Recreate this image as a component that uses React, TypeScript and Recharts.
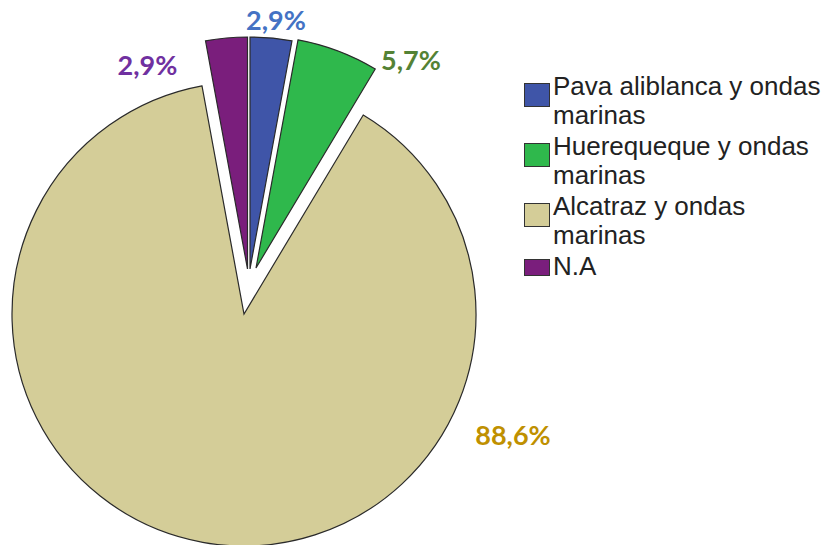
import React from "react";
import { PieChart, Pie, Cell, Legend } from "recharts";

// ---- data ----
const legendLines: string[][] = [
  ["Pava aliblanca y ondas", "marinas"],
  ["Huerequeque y ondas", "marinas"],
  ["Alcatraz y ondas", "marinas"],
  ["N.A"],
];
const categories: string[] = legendLines.map((l) => l.join(" "));
const percentValues: number[] = [2.9, 5.7, 88.6, 2.9];

// ---- styles ----
const sliceColors = ["#3F55A8", "#2FB84C", "#D4CD98", "#7A1E7C"];
const labelColors = ["#4472C4", "#548235", "#BF9000", "#7030A0"];
const baseCx = 249;
const baseCy = 269;
// per-slice explode offsets (pixels) relative to the base centre
const explode = [
  { dx: 1, dy: 0 },
  { dx: 7, dy: -1 },
  { dx: -5, dy: 45 },
  { dx: -1.5, dy: 0 },
];
// label text placement relative to each slice's centre (centre-x, baseline)
const labelOffsets = [
  { dx: 26, dy: -239 },
  { dx: 155, dy: -198 },
  { dx: 269, dy: 131 },
  { dx: -100, dy: -194 },
];
const RADIUS = 232;
const drawOrder = [2, 0, 1, 3];

const data = categories.map((name, i) => ({ name, value: percentValues[i] }));

const fmt = (v: number) => v.toFixed(1).replace(".", ",") + "%";

function LegendContent() {
  return (
    <div
      style={{
        fontFamily: '"Liberation Sans", Arial, sans-serif',
        fontSize: 26,
        lineHeight: "29px",
        color: "#222",
      }}
    >
      {legendLines.map((lines, i) => (
        <div
          key={categories[i]}
          style={{ position: "relative", paddingLeft: 29, marginBottom: 2 }}
        >
          <div
            style={{
              position: "absolute",
              left: 0,
              top: lines.length > 1 ? 11.5 : 7.5,
              width: 26,
              height: lines.length > 1 ? 24 : 17,
              background: sliceColors[i],
              border: "1px solid #333",
              boxSizing: "border-box",
            }}
          />
          {lines.map((t) => (
            <div key={t} style={{ whiteSpace: "nowrap" }}>
              {t}
            </div>
          ))}
        </div>
      ))}
    </div>
  );
}

export default function App() {
  return (
    <div
      style={{
        position: "absolute",
        left: 0,
        top: 0,
        width: 825,
        height: 545,
        overflow: "hidden",
        background: "#fff",
      }}
    >
      <PieChart width={825} height={545} margin={{ top: 0, right: 0, bottom: 0, left: 0 }}>
        {drawOrder.map((si) => {
          const cx = baseCx + explode[si].dx;
          const cy = baseCy + explode[si].dy;
          return (
            <Pie
              key={"pie" + si}
              data={data}
              dataKey="value"
              nameKey="name"
              cx={cx}
              cy={cy}
              innerRadius={0}
              outerRadius={RADIUS}
              startAngle={90}
              endAngle={-270}
              isAnimationActive={false}
              labelLine={false}
              label={(p: any) => {
                if (p.index !== si) return null;
                return (
                  <text
                    x={cx + labelOffsets[si].dx}
                    y={cy + labelOffsets[si].dy}
                    textAnchor="middle"
                    fill={labelColors[si]}
                    style={{
                      fontFamily: 'Lato, "Open Sans", sans-serif',
                      fontWeight: 700,
                      fontSize: 27,
                    }}
                  >
                    {fmt(percentValues[si])}
                  </text>
                );
              }}
            >
              {data.map((d, i) => (
                <Cell
                  key={d.name}
                  fill={i === si ? sliceColors[i] : "none"}
                  stroke={i === si ? "#2a2a2a" : "none"}
                  strokeWidth={1.2}
                />
              ))}
            </Pie>
          );
        })}
        <Legend
          content={() => <LegendContent />}
          wrapperStyle={{ position: "absolute", left: 524, top: 71.5, width: 301 }}
        />
      </PieChart>
    </div>
  );
}
